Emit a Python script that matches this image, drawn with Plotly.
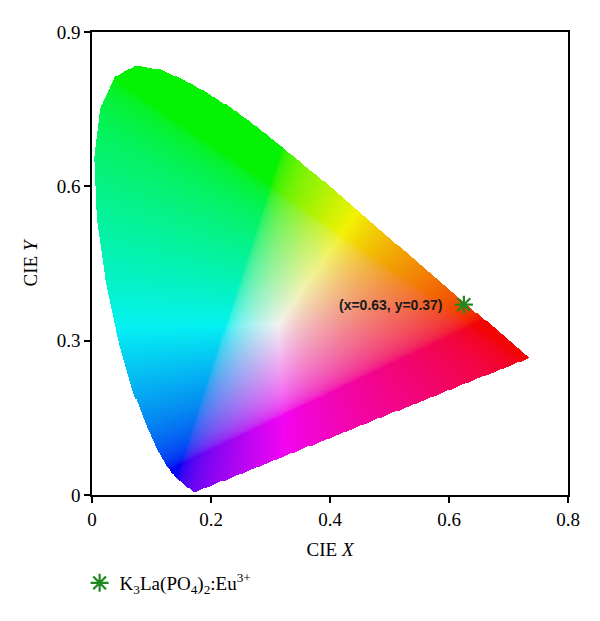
import numpy as np
import plotly.graph_objects as go

# CIE 1931 2-degree spectral locus chromaticity coordinates (380-700 nm)
locus_x = [0.1741, 0.1740, 0.1738, 0.1736, 0.1733, 0.1730, 0.1726, 0.1721, 0.1714, 0.1703,
           0.1689, 0.1669, 0.1644, 0.1611, 0.1566, 0.1510, 0.1440, 0.1355, 0.1241, 0.1096,
           0.0913, 0.0687, 0.0454, 0.0235, 0.0082, 0.0039, 0.0139, 0.0389, 0.0743, 0.1142,
           0.1547, 0.1929, 0.2296, 0.2658, 0.3016, 0.3373, 0.3731, 0.4087, 0.4441, 0.4788,
           0.5125, 0.5448, 0.5752, 0.6029, 0.6270, 0.6482, 0.6658, 0.6801, 0.6915, 0.7006,
           0.7079, 0.7140, 0.7190, 0.7230, 0.7260, 0.7283, 0.7300, 0.7311, 0.7320, 0.7334,
           0.7344, 0.7347]
locus_y = [0.0050, 0.0050, 0.0049, 0.0049, 0.0048, 0.0048, 0.0048, 0.0048, 0.0051, 0.0058,
           0.0069, 0.0086, 0.0109, 0.0138, 0.0177, 0.0227, 0.0297, 0.0399, 0.0578, 0.0868,
           0.1327, 0.2007, 0.2950, 0.4127, 0.5384, 0.6548, 0.7502, 0.8120, 0.8338, 0.8262,
           0.8059, 0.7816, 0.7543, 0.7243, 0.6923, 0.6589, 0.6245, 0.5896, 0.5547, 0.5202,
           0.4866, 0.4544, 0.4242, 0.3965, 0.3725, 0.3514, 0.3340, 0.3197, 0.3083, 0.2993,
           0.2920, 0.2859, 0.2809, 0.2770, 0.2740, 0.2717, 0.2700, 0.2689, 0.2680, 0.2666,
           0.2656, 0.2653]

# Sample point
sample_name = "K<sub>3</sub>La(PO<sub>4</sub>)<sub>2</sub>:Eu<sup>3+</sup>"
sample_x = [0.625]
sample_y = [0.37]
sample_label = "(x=0.63, y=0.37)"

x_ticks = [0, 0.2, 0.4, 0.6, 0.8]
x_tick_text = ["0", "0.2", "0.4", "0.6", "0.8"]
y_ticks = [0, 0.3, 0.6, 0.9]
y_tick_text = ["0", "0.3", "0.6", "0.9"]

# ---- build the colour-filled gamut image ----
step = 0.0017
nx, ny = int(0.8 / step) + 1, int(0.9 / step) + 1
gx = (np.arange(nx) + 0.5) * step
gy = (np.arange(ny) + 0.5) * step
XX, YY = np.meshgrid(gx, gy)

px = np.array(locus_x + [locus_x[0]])
py = np.array(locus_y + [locus_y[0]])
inside = np.zeros(XX.shape, dtype=bool)
for i in range(len(px) - 1):
    x1, y1, x2, y2 = px[i], py[i], px[i + 1], py[i + 1]
    cond = (y1 > YY) != (y2 > YY)
    with np.errstate(divide="ignore", invalid="ignore"):
        xint = (x2 - x1) * (YY - y1) / (y2 - y1) + x1
    inside ^= cond & (XX < xint)

Xc = XX / YY
Yc = np.ones_like(XX)
Zc = (1 - XX - YY) / YY
M = np.array([[3.2406, -1.5372, -0.4986],
              [-0.9689, 1.8758, 0.0415],
              [0.0557, -0.2040, 1.0570]])
lin = np.stack([M[k, 0] * Xc + M[k, 1] * Yc + M[k, 2] * Zc for k in range(3)], axis=-1)
lin = np.clip(lin, 0, None)
mx = lin.max(axis=-1, keepdims=True)
mx[mx == 0] = 1
lin = lin / mx
srgb = np.where(lin <= 0.0031308, 12.92 * lin, 1.055 * np.power(lin, 1 / 2.4) - 0.055)
srgb = srgb * 0.93 + 0.02
rgb = np.clip(srgb * 255, 0, 255).astype(np.uint8)
alpha = np.where(inside, 255, 0).astype(np.uint8)
img = np.concatenate([rgb, alpha[..., None]], axis=-1)
img[~inside, :3] = 255

fig = go.Figure()
fig.add_trace(go.Image(z=img, colormodel="rgba", x0=step / 2, dx=step,
                       y0=step / 2, dy=step, hoverinfo="skip"))
fig.add_trace(go.Scatter(
    x=sample_x, y=sample_y, mode="markers", name=sample_name,
    marker=dict(symbol="asterisk-open", size=15, color="#1e8a1e",
                line=dict(color="#1e8a1e", width=2.2)),
    showlegend=True))
fig.add_annotation(x=sample_x[0], y=sample_y[0], text="<b>" + sample_label + "</b>",
                   showarrow=False, xanchor="right", xshift=-19, yshift=0,
                   font=dict(family="Liberation Sans", size=14, color="#1a1a1a"))

axis_common = dict(showgrid=False, zeroline=False, showline=True, linecolor="black",
                   linewidth=1.5, mirror=True, ticks="outside", ticklen=6,
                   tickwidth=1.5, tickcolor="black",
                   tickfont=dict(family="Liberation Serif", size=19, color="black"))
fig.update_xaxes(range=[0, 0.8], tickvals=x_ticks, ticktext=x_tick_text, autorange=False,
                 constrain="range",
                 title=dict(text="CIE <i>X</i>",
                            font=dict(family="Liberation Serif", size=19, color="black"),
                            standoff=14),
                 **axis_common)
fig.update_yaxes(range=[0, 0.9], tickvals=y_ticks, ticktext=y_tick_text, autorange=False,
                 scaleanchor=False, constrain="range",
                 title=dict(text="CIE <i>Y</i>",
                            font=dict(family="Liberation Serif", size=19, color="black"),
                            standoff=14),
                 **axis_common)
fig.update_layout(
    width=600, height=621,
    margin=dict(l=84, r=40, t=24, b=134),
    plot_bgcolor="white", paper_bgcolor="white",
    showlegend=True,
    legend=dict(x=-0.026, y=-0.19, xanchor="left", yanchor="middle",
                font=dict(family="Liberation Serif", size=19, color="black"),
                bgcolor="rgba(0,0,0,0)"),
)
fig.write_html("out.html")
